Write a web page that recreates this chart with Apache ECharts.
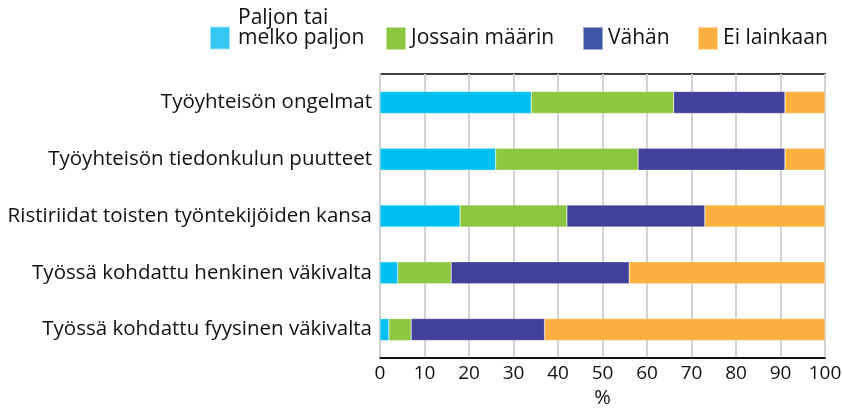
<!DOCTYPE html>
<html>
<head>
<meta charset="utf-8">
<script src="https://cdn.jsdelivr.net/npm/echarts@6/dist/echarts.min.js"></script>
<style>
html,body{margin:0;padding:0;background:#fff;}
#chart{width:842px;height:412px;}
</style>
</head>
<body>
<div id="chart"></div>
<script>
var categories = [
  'Työyhteisön ongelmat',
  'Työyhteisön tiedonkulun puutteet',
  'Ristiriidat toisten työntekijöiden kansa',
  'Työssä kohdattu henkinen väkivalta',
  'Työssä kohdattu fyysinen väkivalta'
];
var seriesNames = ['Paljon tai melko paljon', 'Jossain määrin', 'Vähän', 'Ei lainkaan'];
var paljon = [34, 26, 18, 4, 2];
var jossain = [32, 32, 24, 12, 5];
var vahan = [25, 33, 31, 40, 30];
var eiLainkaan = [9, 9, 27, 44, 63];
var xTicks = [0, 10, 20, 30, 40, 50, 60, 70, 80, 90, 100];

var barColors = ['#00bff3', '#8dc63f', '#42419a', '#fbb040'];
var legendColors = ['#36c7f5', '#8dc63f', '#3c56a5', '#fbb040'];
var FONT = 'Open Sans';

var chart = echarts.init(document.getElementById('chart'));
var values = [paljon, jossain, vahan, eiLainkaan];

function makeLegend(i, left, top, formatter, pad) {
  return {
    left: left, top: top, padding: 0,
    itemWidth: 20, itemHeight: 23,
    icon: 'rect',
    selectedMode: false,
    data: [{name: seriesNames[i], itemStyle: {color: legendColors[i]}}],
    formatter: formatter,
    textStyle: {
      fontFamily: FONT, fontSize: 21, color: '#111', lineHeight: 20,
      padding: pad
    }
  };
}

chart.setOption({
  animation: false,
  textStyle: {fontFamily: FONT},
  legend: [
    makeLegend(0, 209, 7.5, function(){ return 'Paljon tai\nmelko paljon\n '; }, [0,0,0,3]),
    makeLegend(1, 385, 26, null, [0,0,0,0]),
    makeLegend(2, 582, 26, null, [0,0,0,0]),
    makeLegend(3, 697, 26, null, [0,0,0,0])
  ],
  grid: {
    left: 380, right: 17, top: 74, bottom: 54,
    outerBoundsMode: 'none', containLabel: false,
    show: true, borderColor: '#000', borderWidth: 1.5, backgroundColor: 'transparent'
  },
  xAxis: {
    type: 'value', min: 0, max: 100, interval: 10,
    name: '%', nameLocation: 'middle', nameGap: 30,
    nameTextStyle: {fontFamily: FONT, fontSize: 20, color: '#111'},
    axisLine: {show: true, lineStyle: {color: '#000', width: 1.5}},
    axisTick: {show: false},
    axisLabel: {
      fontFamily: FONT, fontSize: 19, color: '#111', margin: 6,
      formatter: function(v){ return xTicks.indexOf(v) >= 0 ? String(v) : ''; }
    },
    splitLine: {show: true, lineStyle: {color: '#d2d2d2', width: 2}}
  },
  yAxis: {
    type: 'category', data: categories, inverse: true,
    axisLine: {show: true, lineStyle: {color: '#d2d2d2', width: 2}},
    axisTick: {show: false},
    axisLabel: {fontFamily: FONT, fontSize: 20.5, color: '#111', margin: 8}
  },
  series: values.map(function(v, i){
    return {
      name: seriesNames[i], type: 'bar', stack: 'total', barWidth: 22,
      data: v,
      itemStyle: {color: barColors[i], borderColor: 'rgba(255,255,255,0.5)', borderWidth: 0.5}
    };
  })
});
</script>
</body>
</html>
